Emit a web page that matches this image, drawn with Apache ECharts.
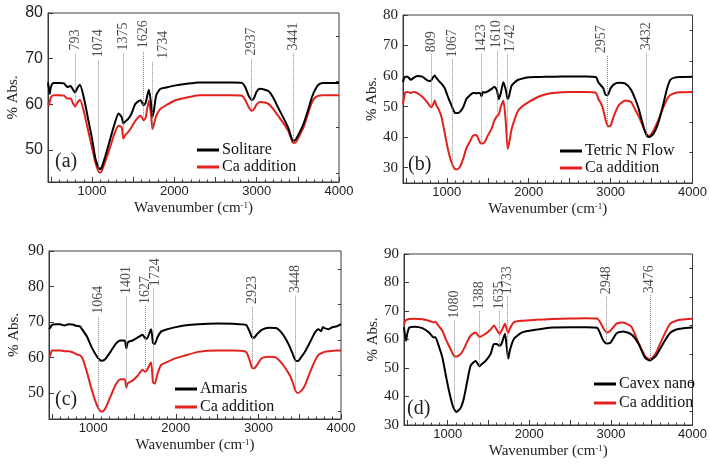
<!DOCTYPE html>
<html>
<head>
<meta charset="utf-8">
<script src="https://cdn.jsdelivr.net/npm/echarts@6/dist/echarts.min.js"></script>
<style>
    html, body {margin: 0; padding: 0; background: #fff;}
    #chart {width: 710px; height: 473px;}
</style>
</head>
<body>
<div id="chart"></div>
<script>
// FTIR spectra, 4 panels

var serif = 'Liberation Serif';
var sans = 'Liberation Sans';
var red = '#e3211c';

// (a) Solitare
var wnA = [465, 475, 485, 500, 530, 600, 660, 700, 740, 770, 795, 820, 853, 900, 950, 1000, 1040, 1074, 1095, 1120, 1180, 1230, 1270, 1322, 1360, 1380, 1400, 1440, 1480, 1526, 1590, 1626, 1650, 1690, 1715, 1734, 1750, 1780, 1830, 1900, 2000, 2150, 2300, 2500, 2700, 2820, 2860, 2900, 2937, 2965, 3000, 3040, 3100, 3150, 3200, 3260, 3320, 3380, 3420, 3441, 3470, 3520, 3570, 3620, 3670, 3710, 3750, 3800, 3900, 4000];
var solitare = [64.8, 63.5, 62.3, 63.8, 64.7, 64.7, 64.6, 63.8, 64.0, 63.2, 62.6, 63.5, 64.3, 61.5, 57.0, 52.5, 48.2, 46.3, 45.8, 46.3, 49.8, 53.0, 55.5, 58.0, 57.2, 55.8, 56.2, 56.8, 58.0, 60.1, 60.9, 59.8, 60.3, 63.2, 60.5, 57.3, 58.5, 62.0, 63.4, 63.7, 64.1, 64.5, 64.8, 64.8, 64.8, 64.7, 63.8, 62.0, 61.0, 61.3, 62.8, 63.4, 63.2, 62.8, 61.5, 59.3, 57.2, 55.0, 52.8, 52.0, 52.2, 53.8, 55.8, 58.5, 61.5, 63.2, 64.3, 64.7, 64.7, 64.7];
var caA = [60.2, 59.8, 60.5, 61.5, 62.0, 62.0, 61.9, 61.3, 61.3, 60.2, 59.5, 60.3, 61.0, 58.5, 54.5, 50.5, 47.3, 45.5, 45.0, 45.5, 48.5, 51.2, 53.5, 55.3, 55.0, 52.5, 53.2, 54.0, 55.0, 56.4, 57.5, 56.5, 57.0, 60.8, 58.0, 54.6, 55.5, 57.5, 59.0, 59.8, 60.8, 61.5, 62.0, 62.0, 62.0, 61.9, 61.0, 59.5, 58.6, 58.9, 60.0, 60.5, 60.4, 60.0, 59.0, 57.5, 56.0, 54.3, 52.5, 51.6, 51.6, 53.2, 55.0, 57.8, 60.4, 61.5, 61.9, 62.0, 62.0, 62.0];

// (b) Tetric N Flow
var wnB = [465, 475, 490, 520, 560, 600, 640, 700, 760, 790, 809, 830, 853, 870, 900, 935, 975, 1016, 1057, 1098, 1130, 1160, 1200, 1240, 1281, 1320, 1360, 1404, 1423, 1440, 1465, 1500, 1547, 1580, 1610, 1635, 1660, 1690, 1720, 1742, 1760, 1790, 1830, 1873, 1940, 2000, 2100, 2200, 2300, 2500, 2700, 2820, 2850, 2880, 2910, 2940, 2970, 3000, 3040, 3100, 3180, 3250, 3300, 3340, 3380, 3420, 3450, 3475, 3520, 3580, 3640, 3690, 3730, 3780, 3850, 4000];
var tetric = [58.0, 59.0, 59.8, 59.8, 58.8, 59.5, 60.0, 59.8, 58.6, 58.4, 58.6, 59.5, 60.2, 59.5, 58.5, 57.5, 56.0, 53.0, 50.4, 48.0, 47.9, 48.3, 49.8, 52.6, 53.7, 54.5, 54.4, 54.5, 53.4, 54.8, 54.6, 55.0, 55.8, 56.5, 55.5, 52.5, 54.5, 58.0, 55.5, 52.5, 53.5, 56.8, 58.0, 58.8, 59.3, 59.6, 59.7, 59.8, 59.8, 59.9, 59.9, 59.7, 58.0, 57.0, 56.0, 53.8, 54.0, 56.0, 57.3, 57.8, 57.5, 55.5, 52.5, 49.5, 45.5, 41.8, 40.2, 40.1, 41.0, 44.5, 50.5, 56.0, 58.8, 59.5, 59.7, 59.8];
var caB = [50.8, 52.5, 54.5, 54.8, 54.5, 54.8, 54.4, 53.2, 51.5, 50.3, 49.8, 50.5, 52.0, 50.5, 49.2, 46.6, 41.3, 35.8, 31.8, 29.6, 29.5, 30.3, 33.0, 36.5, 38.5, 40.5, 40.7, 38.3, 37.9, 38.0, 38.5, 40.5, 42.8, 45.4, 46.8, 47.5, 50.0, 52.0, 45.0, 36.2, 38.0, 42.5, 46.0, 48.8, 50.5, 51.5, 53.0, 54.0, 54.5, 54.8, 54.8, 54.5, 52.5, 51.2, 49.0, 45.5, 43.5, 43.8, 47.0, 50.5, 52.0, 51.5, 49.0, 47.0, 44.5, 42.0, 40.6, 40.5, 42.0, 45.5, 49.5, 52.5, 53.8, 54.4, 54.7, 54.8];

// (c) Amaris
var wnC = [465, 480, 500, 550, 600, 650, 700, 750, 800, 840, 870, 923, 984, 1045, 1086, 1110, 1147, 1209, 1270, 1331, 1380, 1401, 1420, 1475, 1536, 1597, 1627, 1650, 1700, 1724, 1745, 1780, 1822, 1900, 1985, 2100, 2272, 2500, 2700, 2850, 2890, 2923, 2950, 2980, 3040, 3130, 3213, 3280, 3335, 3380, 3417, 3448, 3479, 3520, 3560, 3622, 3683, 3724, 3760, 3780, 3800, 3850, 3900, 3950, 4000];
var amaris = [68.0, 68.4, 69.2, 69.4, 69.4, 69.0, 69.4, 69.3, 68.9, 68.8, 67.8, 66.0, 62.8, 60.3, 59.2, 59.1, 59.6, 61.6, 63.8, 64.8, 64.8, 62.6, 64.3, 64.8, 65.6, 66.4, 65.5, 65.3, 68.0, 64.2, 63.8, 65.8, 67.3, 68.0, 68.5, 69.0, 69.4, 69.6, 69.5, 69.2, 67.5, 65.7, 65.6, 66.5, 67.8, 68.4, 68.3, 67.0, 65.1, 63.0, 60.9, 59.2, 59.0, 60.2, 61.5, 64.2, 67.0, 68.0, 67.4, 68.6, 68.3, 68.0, 68.6, 68.8, 69.4];
var caC = [60.3, 60.5, 62.0, 62.0, 62.0, 61.8, 61.8, 61.5, 60.9, 60.6, 59.8, 56.0, 50.8, 46.6, 44.9, 44.8, 45.7, 49.0, 52.3, 53.9, 53.9, 51.6, 52.8, 53.5, 54.8, 56.6, 56.0, 56.4, 58.7, 53.0, 52.7, 55.5, 57.9, 58.8, 59.7, 60.5, 61.6, 62.0, 62.0, 61.6, 59.5, 57.1, 57.0, 57.8, 59.8, 60.2, 60.0, 58.5, 56.7, 55.0, 52.9, 50.7, 50.0, 50.7, 52.0, 55.7, 59.0, 60.7, 61.2, 61.4, 61.6, 61.8, 61.9, 62.0, 62.0];

// (d) Cavex nano
var wnD = [465, 475, 490, 505, 530, 600, 690, 770, 830, 850, 870, 935, 975, 1016, 1057, 1080, 1106, 1159, 1200, 1241, 1282, 1343, 1388, 1404, 1465, 1526, 1567, 1600, 1635, 1660, 1702, 1725, 1742, 1765, 1812, 1914, 2077, 2282, 2500, 2700, 2830, 2870, 2910, 2948, 2990, 3070, 3150, 3250, 3335, 3418, 3476, 3520, 3560, 3642, 3724, 3800, 3870, 4000];
var cavex = [64.3, 62.0, 59.6, 62.0, 64.2, 64.5, 64.0, 62.5, 60.7, 60.8, 59.5, 53.7, 47.8, 42.0, 37.2, 35.5, 34.6, 36.0, 39.6, 45.5, 50.8, 52.5, 50.6, 51.0, 52.5, 54.9, 58.4, 58.4, 57.8, 58.5, 62.0, 57.0, 53.3, 56.5, 60.2, 62.5, 63.4, 64.2, 64.3, 64.3, 64.1, 62.0, 59.5, 58.6, 58.7, 62.2, 62.8, 61.8, 58.7, 53.6, 52.6, 53.4, 54.6, 58.7, 62.3, 63.5, 63.9, 64.2];
var caD = [65.0, 66.2, 66.8, 67.0, 67.2, 67.3, 67.1, 66.6, 66.0, 66.2, 65.5, 63.1, 60.2, 57.8, 55.3, 54.2, 54.0, 54.9, 56.8, 59.3, 61.4, 62.5, 60.9, 61.0, 62.0, 63.5, 64.9, 63.5, 62.0, 63.0, 65.5, 63.5, 62.3, 64.0, 66.1, 66.6, 66.9, 67.2, 67.4, 67.5, 67.4, 66.0, 63.8, 62.5, 63.0, 65.6, 66.0, 64.5, 59.0, 54.2, 53.0, 54.0, 55.7, 61.0, 65.5, 66.6, 67.0, 67.3];

// 峰位标注: 峰位, 文字位置, 文字起点, 虚线底端
var peaksA = [793, 1074, 1375, 1626, 1734, 2937, 3441];
var textXA = [793, 1074, 1375, 1626, 1860, 2937, 3441];
var textYA = [71.8, 70.3, 71.8, 72.3, 70.0, 70.7, 71.8];
var lineEndA = [59.5, 45.3, 53.0, 56.8, 55.0, 58.8, 51.8];

var peaksB = [809, 1067, 1423, 1610, 1742, 2957, 3432];
var textXB = [809, 1067, 1423, 1610, 1780, 2890, 3432];
var textYB = [67.8, 66.2, 67.8, 69.1, 67.8, 67.5, 68.5];
var lineEndB = [50.0, 30.5, 38.0, 47.0, 37.0, 44.0, 40.5];

var peaksC = [1064, 1401, 1627, 1724, 2923, 3448];
var textXC = [1064, 1401, 1627, 1750, 2923, 3448];
var textYC = [72.3, 77.9, 75.1, 80.1, 75.1, 78.2];
var lineEndC = [45.2, 51.8, 56.2, 53.2, 57.1, 50.5];

var peaksD = [1080, 1388, 1635, 1733, 2948, 3476];
var textXD = [1080, 1388, 1635, 1733, 2948, 3476];
var textYD = [67.4, 70.6, 70.6, 75.9, 75.9, 76.2];
var lineEndD = [35.5, 50.8, 57.8, 53.8, 58.7, 52.8];

// 坐标轴
var xMin = 465, xMax = 4000;
var xLabels = [1000, 2000, 3000, 4000];
var yRange = [[43, 80], [25, 80], [42.7, 90], [30, 90]];
var yLabels = [
    [50, 60, 70, 80],
    [30, 40, 50, 60, 70, 80],
    [50, 60, 70, 80, 90],
    [30, 40, 50, 60, 70, 80, 90]
];
var sampleNames = ['Solitare', 'Tetric N Flow', 'Amaris', 'Cavex nano'];
var panelTags = ['(a)', '(b)', '(c)', '(d)'];

var grids = [
    {left: 48, top: 13, width: 291, height: 169},
    {left: 403, top: 15, width: 292, height: 168},
    {left: 49, top: 251, width: 292, height: 168},
    {left: 404, top: 254, width: 290, height: 171}
];
var yNameGap = [27, 19, 27, 19];
var yLabelFont = [sans, serif, serif, serif];
var yLabelSize = [16, 15, 16, 15];
var legendPos = [[197, 142, 1], [560, 143, 1], [175, 381, 2], [594, 376, 3]];
var tagPos = [[55, 163], [408, 166], [55, 401], [407, 410]];

function pairs(xs, ys) {
    var out = [];
    for (var i = 0; i < xs.length; i++) {
        out.push([xs[i], ys[i]]);
    }
    return out;
}

function range(a, b, step) {
    var out = [];
    for (var v = a; v <= b + 1e-9; v += step) out.push(v);
    return out;
}

function halfSteps(list) {
    var out = [];
    for (var i = 0; i < list.length; i++) out.push(list[i] - 5);
    return out;
}

function plainNum(v) {
    return String(v);
}

var panels = [
    {wn: wnA, black: solitare, red: caA, pk: peaksA, tx: textXA, ty: textYA, le: lineEndA},
    {wn: wnB, black: tetric, red: caB, pk: peaksB, tx: textXB, ty: textYB, le: lineEndB},
    {wn: wnC, black: amaris, red: caC, pk: peaksC, tx: textXC, ty: textYC, le: lineEndC},
    {wn: wnD, black: cavex, red: caD, pk: peaksD, tx: textXD, ty: textYD, le: lineEndD}
];

var option = {
    animation: false,
    backgroundColor: '#fff',
    grid: [],
    xAxis: [],
    yAxis: [],
    legend: [],
    series: [],
    graphic: []
};

var axisColor = '#3a3a3a';

for (var i = 0; i < 4; i++) {
    var g = grids[i];
    option.grid.push({
        left: g.left, top: g.top, width: g.width, height: g.height,
        show: true, borderColor: axisColor, borderWidth: 1
    });

    // 主刻度 + 标签
    option.xAxis.push({
        gridIndex: i, type: 'value', min: xMin, max: xMax,
        axisLine: {show: true, onZero: false, lineStyle: {color: axisColor}},
        axisTick: {show: true, inside: true, length: 5, customValues: range(500, 4000, 500), lineStyle: {color: axisColor}},
        axisLabel: {customValues: xLabels, formatter: plainNum, fontFamily: sans, fontSize: 13, color: '#222', margin: 3},
        splitLine: {show: false},
        name: 'Wavenumber (cm{s|-1})',
        nameLocation: 'middle',
        nameGap: 19,
        nameTextStyle: {
            fontFamily: serif, fontSize: 15, color: '#222',
            rich: {s: {fontFamily: serif, fontSize: 9, color: '#222', verticalAlign: 'top'}}
        }
    });
    // 次刻度
    option.xAxis.push({
        gridIndex: i, type: 'value', min: xMin, max: xMax, position: 'bottom',
        axisLine: {show: false},
        axisTick: {show: true, inside: true, length: 2.5, customValues: range(500, 4000, 100), lineStyle: {color: axisColor}},
        axisLabel: {show: false},
        splitLine: {show: false}
    });

    option.yAxis.push({
        gridIndex: i, type: 'value', min: yRange[i][0], max: yRange[i][1],
        axisLine: {show: true, onZero: false, lineStyle: {color: axisColor}},
        axisTick: {show: true, inside: true, length: 5, customValues: yLabels[i], lineStyle: {color: axisColor}},
        axisLabel: {customValues: yLabels[i], formatter: plainNum, fontFamily: yLabelFont[i], fontSize: yLabelSize[i], color: '#222', margin: 5},
        splitLine: {show: false},
        name: '% Abs.',
        nameLocation: 'middle',
        nameGap: yNameGap[i],
        nameTextStyle: {fontFamily: serif, fontSize: 15, color: '#222'}
    });
    option.yAxis.push({
        gridIndex: i, type: 'value', min: yRange[i][0], max: yRange[i][1],
        axisLine: {show: false},
        axisTick: {show: true, inside: true, length: 3, customValues: halfSteps(yLabels[i]).filter(function (v) { return v > yRange[i][0]; }), lineStyle: {color: axisColor}},
        axisLabel: {show: false},
        splitLine: {show: false}
    });

    var p = panels[i];
    option.series.push({
        name: 'Ca addition', type: 'line',
        xAxisIndex: 2 * i, yAxisIndex: 2 * i,
        data: pairs(p.wn, p.red),
        showSymbol: false, symbol: 'none', smooth: 0.2,
        lineStyle: {color: red, width: 2}, itemStyle: {color: red},
        z: 3
    });
    option.series.push({
        name: sampleNames[i], type: 'line',
        xAxisIndex: 2 * i, yAxisIndex: 2 * i,
        data: pairs(p.wn, p.black),
        showSymbol: false, symbol: 'none', smooth: 0.2,
        lineStyle: {color: '#000', width: 2}, itemStyle: {color: '#000'},
        z: 4
    });

    // 峰位标注
    var textData = [];
    var lineData = [];
    for (var k = 0; k < p.pk.length; k++) {
        textData.push([p.tx[k], p.ty[k], String(p.pk[k])]);
        lineData.push([{coord: [p.pk[k], p.le[k]]}, {coord: [p.pk[k], p.ty[k] - 0.6]}]);
    }
    option.series.push({
        type: 'scatter',
        xAxisIndex: 2 * i, yAxisIndex: 2 * i,
        data: textData,
        symbolSize: 1,
        itemStyle: {color: 'rgba(0,0,0,0)'},
        silent: true,
        label: {
            show: true, position: 'inside', rotate: 90, align: 'left', verticalAlign: 'middle',
            fontFamily: serif, fontSize: 14, color: '#222',
            formatter: function (prm) { return prm.value[2]; }
        },
        markLine: {
            silent: true, symbol: ['none', 'none'],
            label: {show: false},
            lineStyle: {type: 'dotted', color: '#8a8a8a', width: 1},
            data: lineData
        },
        z: 2
    });

    option.legend.push({
        data: [sampleNames[i], 'Ca addition'],
        orient: 'vertical',
        left: legendPos[i][0], top: legendPos[i][1],
        itemGap: legendPos[i][2],
        itemWidth: 22, itemHeight: 3,
        icon: 'rect',
        padding: 0,
        selectedMode: false,
        textStyle: {fontFamily: serif, fontSize: 16, color: '#111', padding: [0, 0, 0, -2]}
    });

    option.graphic.push({
        type: 'text', left: tagPos[i][0], top: tagPos[i][1] - 11,
        style: {text: panelTags[i], fontFamily: serif, fontSize: 20, fill: '#222'}
    });
}

var myChart = echarts.init(document.getElementById('chart'));
myChart.setOption(option);
window.addEventListener('resize', function () {
    myChart.resize();
});
</script>
</body>
</html>
